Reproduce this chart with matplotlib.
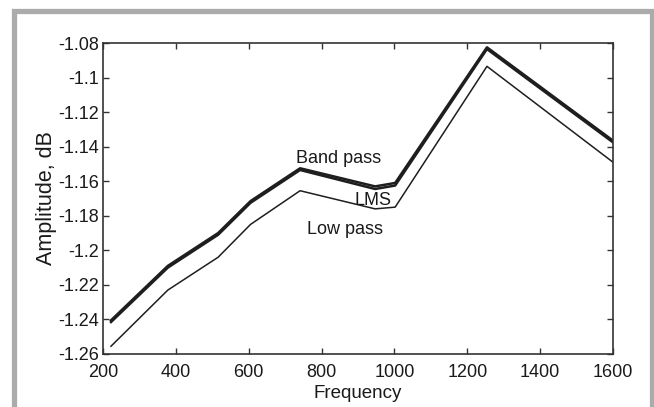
import matplotlib

matplotlib.use("Agg")
import matplotlib.pyplot as plt
from matplotlib.patches import Rectangle

plt.rcParams["font.family"] = ["Liberation Sans", "DejaVu Sans"]
plt.rcParams["axes.unicode_minus"] = False

freq = [222, 378, 516, 605, 741, 947, 1002, 1254, 1600]
band_pass = [-1.2405, -1.2090, -1.1900, -1.1715, -1.1525, -1.1630, -1.1610, -1.0825, -1.1365]
lms = [-1.2415, -1.2100, -1.1910, -1.1725, -1.1535, -1.1645, -1.1625, -1.0835, -1.1375]
low_pass = [-1.2555, -1.2230, -1.2040, -1.1850, -1.1655, -1.1760, -1.1750, -1.0935, -1.1490]
yticks = [-1.26, -1.24, -1.22, -1.2, -1.18, -1.16, -1.14, -1.12, -1.1, -1.08]
xticks = [200, 400, 600, 800, 1000, 1200, 1400, 1600]

LINE = "#1e1e1e"
AXIS = "#333333"
FRAME = "#ababab"
TEXT = "#1a1a1a"

fig = plt.figure(figsize=(6.54, 4.07), dpi=100, facecolor="white")
fig.patches.append(Rectangle((13.5 / 654, -0.05), (651.5 - 13.5) / 654, 1.05 - 10.5 / 407,
                             transform=fig.transFigure, fill=False,
                             edgecolor=FRAME, linewidth=3.8))

ax = fig.add_axes([103 / 654, 1 - 354 / 407, 510 / 654, 311 / 407])
ax.plot(freq, low_pass, color=LINE, linewidth=1.1)
ax.plot(freq, lms, color=LINE, linewidth=1.8)
ax.plot(freq, band_pass, color=LINE, linewidth=1.8)

ax.set_xlim(200, 1600)
ax.set_ylim(-1.26, -1.08)
ax.set_xticks(xticks)
ax.set_yticks(yticks)
ax.set_yticklabels([f"{v:g}" for v in yticks])
ax.tick_params(direction="in", length=4, width=1, colors=AXIS, labelcolor=TEXT,
               labelsize=13, top=True, right=True, pad=3)
ax.tick_params(axis="x", pad=7)
for s in ax.spines.values():
    s.set_color(AXIS)
    s.set_linewidth(1.2)

ax.set_xlabel("Frequency", fontsize=13.5, color=TEXT, labelpad=3)
ax.set_ylabel("Amplitude, dB", fontsize=15.5, color=TEXT, labelpad=1)

ax.text(848, -1.1466, "Band pass", ha="center", va="center", fontsize=13, color=TEXT)
ax.text(941, -1.171, "LMS", ha="center", va="center", fontsize=13, color=TEXT)
ax.text(864, -1.188, "Low pass", ha="center", va="center", fontsize=13, color=TEXT)

fig.savefig("out.png", dpi=100, facecolor="white")
